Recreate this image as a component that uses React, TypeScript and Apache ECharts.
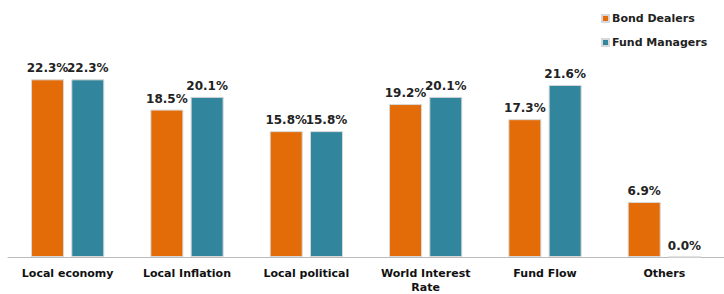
import React, { useEffect, useRef } from "react";
import * as echarts from "echarts";

const categories = ["Local economy", "Local Inflation", "Local political", "World Interest\nRate", "Fund Flow", "Others"];
const bondDealers = [22.3, 18.5, 15.8, 19.2, 17.3, 6.9];
const fundManagers = [22.3, 20.1, 15.8, 20.1, 21.6, 0.0];

export default function App() {
  const ref = useRef<HTMLDivElement>(null);
  useEffect(() => {
    const chart = echarts.init(ref.current!, null, { renderer: "svg" });
    const label = {
      show: true,
      position: "top" as const,
      distance: 5,
      formatter: (p: any) => p.value.toFixed(1) + "%",
      color: "#222",
      fontWeight: "bold" as const,
      fontSize: 12,
      fontFamily: "DejaVu Sans",
    };
    chart.setOption({
      animation: false,
      backgroundColor: "#fff",
      legend: {
        orient: "vertical",
        left: 601,
        top: 13,
        padding: 0,
        itemWidth: 7,
        itemHeight: 7,
        itemGap: 13,
        icon: "rect",
        textStyle: { fontWeight: "bold", fontSize: 11, color: "#222", fontFamily: "DejaVu Sans", padding: [0, 0, 0, -2] },
        data: ["Bond Dealers", "Fund Managers"],
      },
      grid: { left: 8, right: -4, top: 18, bottom: 34, containLabel: false },
      xAxis: {
        type: "category",
        data: categories,
        axisTick: { show: false },
        axisLine: { lineStyle: { color: "#bbb", width: 1 } },
        axisLabel: {
          interval: 0,
          color: "#111",
          fontWeight: "bold",
          fontSize: 11,
          fontFamily: "DejaVu Sans",
          margin: 9,
          lineHeight: 14,
        },
      },
      yAxis: { type: "value", min: 0, max: 30, show: false, splitLine: { show: false } },
      series: [
        {
          name: "Bond Dealers",
          type: "bar",
          data: bondDealers,
          barWidth: 33,
          barGap: "22%",
          itemStyle: { color: "#E36C09", borderColor: "#d8d8d8", borderWidth: 1 },
          label,
        },
        {
          name: "Fund Managers",
          type: "bar",
          data: fundManagers,
          barWidth: 33,
          itemStyle: { color: "#31859C", borderColor: "#d8d8d8", borderWidth: 1 },
          label,
        },
      ],
    });
    return () => chart.dispose();
  }, []);
  return <div ref={ref} style={{ width: 724, height: 294, position: "absolute", left: 0, top: 0 }} />;
}
